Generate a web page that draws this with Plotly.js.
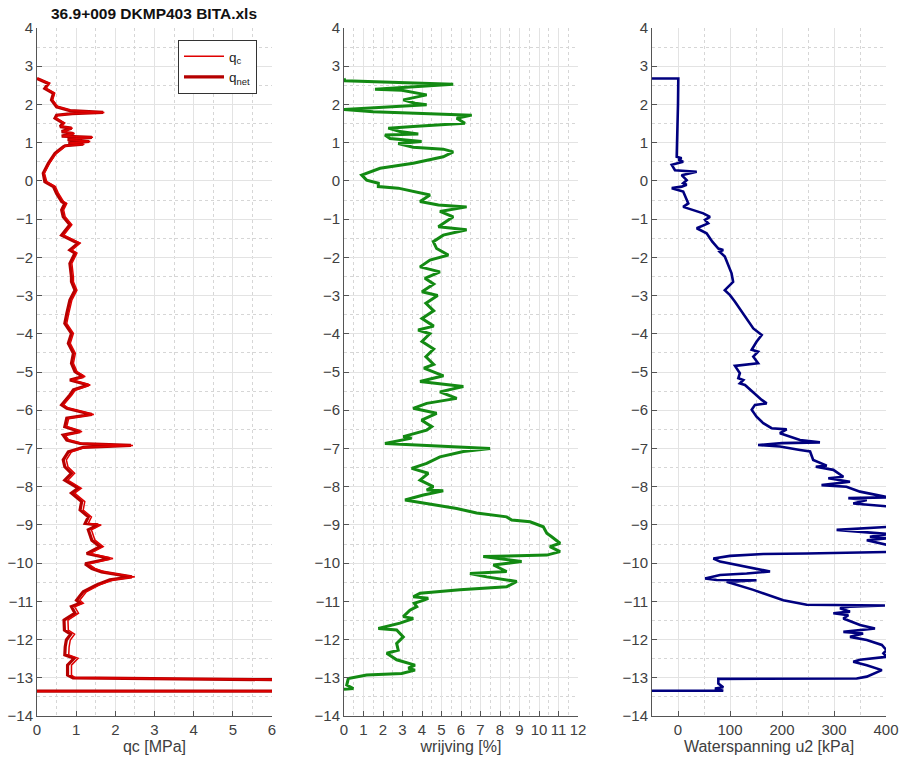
<!DOCTYPE html>
<html>
<head>
<meta charset="utf-8">
<script src="https://cdn.plot.ly/plotly-3.0.1.min.js"></script>
<style>html,body{margin:0;padding:0;background:#fff;}#chart{width:901px;height:762px;}</style>
</head>
<body>
<div id="chart"></div>
<script>
// ---- Panel 1: cone resistance (depth in m NAP, values in MPa)
const qDepth = [2.68,2.55,2.42,2.29,2.12,1.94,1.84,1.79,1.76,1.72,1.64,1.51,1.42,1.38,1.29,1.24,1.17,1.14,1.08,1.03,0.99,0.96,0.92,0.89,0.72,0.46,0.20,-0.02,-0.15,-0.33,-0.54,-0.59,-0.76,-0.94,-1.15,-1.42,-1.63,-1.81,-1.89,-2.16,-2.51,-2.64,-2.86,-3.12,-3.47,-3.73,-3.99,-4.25,-4.51,-4.77,-4.99,-5.12,-5.21,-5.34,-5.47,-5.60,-5.86,-5.95,-6.11,-6.21,-6.43,-6.56,-6.65,-6.78,-6.87,-6.92,-6.97,-7.09,-7.30,-7.48,-7.65,-7.83,-8.04,-8.17,-8.39,-8.61,-8.79,-8.96,-9.00,-9.13,-9.40,-9.57,-9.75,-9.88,-10.02,-10.14,-10.23,-10.36,-10.44,-10.57,-10.75,-10.97,-11.05,-11.14,-11.31,-11.49,-11.75,-11.86,-12.01,-12.19,-12.40,-12.49,-12.67,-12.93,-13.00,-13.06,-13.35,-13.35];
const qnet = [0.00,0.29,0.20,0.42,0.37,0.50,0.84,1.69,0.90,0.50,0.46,0.67,0.59,0.88,0.63,0.93,0.63,1.40,0.78,1.33,0.80,1.18,0.72,0.67,0.46,0.29,0.16,0.20,0.42,0.50,0.63,0.71,0.63,0.67,0.84,0.63,1.05,0.84,0.97,0.84,0.88,0.88,0.97,0.84,0.76,0.71,0.88,0.80,0.93,0.88,0.97,1.18,0.84,1.31,0.93,0.84,0.63,0.76,1.40,0.76,0.71,1.10,0.67,0.76,1.10,2.40,1.18,0.80,0.67,0.71,0.88,0.71,1.05,0.88,1.14,1.10,1.31,1.23,1.56,1.31,1.40,1.61,1.27,1.86,1.23,1.40,1.65,2.42,1.86,1.52,1.18,1.01,1.10,0.88,0.97,0.69,0.70,0.86,0.75,0.72,0.71,0.95,0.78,0.78,0.92,7.00,7.00,-1.00];
const qc   = [0.00,0.32,0.23,0.45,0.40,0.53,0.87,1.72,0.93,0.53,0.49,0.70,0.62,0.91,0.66,0.96,0.66,1.43,0.81,1.36,0.83,1.21,0.75,0.70,0.49,0.32,0.19,0.25,0.47,0.55,0.68,0.76,0.68,0.72,0.89,0.68,1.10,0.89,1.02,0.89,0.93,0.93,1.02,0.89,0.81,0.76,0.93,0.85,0.98,0.93,1.02,1.23,0.89,1.36,0.98,0.89,0.68,0.81,1.45,0.81,0.76,1.15,0.72,0.81,1.15,2.45,1.23,0.88,0.75,0.79,0.96,0.79,1.13,0.96,1.22,1.18,1.39,1.31,1.64,1.39,1.48,1.69,1.35,1.94,1.31,1.48,1.73,2.50,1.94,1.60,1.26,1.09,1.18,0.96,1.06,0.79,0.80,0.96,0.85,0.82,0.81,1.05,0.88,0.88,0.98,7.00,7.00,-1.00];

// ---- Panel 2: friction ratio (%)
const wDepth = [2.68,2.62,2.53,2.40,2.37,2.25,2.12,2.03,1.99,1.94,1.87,1.81,1.72,1.64,1.51,1.42,1.38,1.29,1.23,1.20,1.11,1.03,0.98,0.88,0.83,0.76,0.63,0.46,0.33,0.15,0.02,-0.06,-0.15,-0.19,-0.28,-0.37,-0.54,-0.63,-0.68,-0.80,-0.94,-1.20,-1.28,-1.42,-1.59,-1.77,-1.94,-2.07,-2.25,-2.38,-2.55,-2.70,-2.90,-3.00,-3.20,-3.40,-3.60,-3.80,-3.90,-4.00,-4.20,-4.40,-4.60,-4.80,-4.90,-5.00,-5.10,-5.25,-5.38,-5.52,-5.69,-5.82,-5.95,-6.08,-6.26,-6.43,-6.52,-6.69,-6.73,-6.87,-6.91,-7.00,-7.08,-7.22,-7.39,-7.52,-7.65,-7.83,-8.00,-8.09,-8.11,-8.22,-8.35,-8.44,-8.57,-8.69,-8.79,-8.87,-8.92,-9.05,-9.22,-9.31,-9.48,-9.57,-9.70,-9.79,-9.83,-9.96,-10.05,-10.22,-10.27,-10.36,-10.48,-10.62,-10.70,-10.79,-10.88,-10.92,-10.97,-11.05,-11.14,-11.23,-11.40,-11.45,-11.57,-11.71,-11.75,-11.93,-12.10,-12.28,-12.36,-12.53,-12.67,-12.75,-12.80,-12.89,-12.93,-13.02,-13.19,-13.28,-13.30];
const wrijving = [0.00,0.05,5.60,1.59,2.96,4.24,3.04,3.64,4.24,2.70,0.00,1.50,6.55,5.78,6.20,3.55,2.27,2.87,3.81,2.10,2.36,3.98,2.78,3.55,5.09,5.60,5.09,3.55,1.85,0.91,1.16,1.76,1.76,2.78,3.64,4.41,3.90,4.84,6.29,4.92,5.60,4.84,6.29,5.09,4.58,4.75,5.35,4.41,3.90,4.92,4.15,4.60,4.00,4.80,4.20,4.60,4.00,4.60,3.80,4.40,4.00,4.60,4.20,4.60,4.10,4.60,5.10,3.90,6.12,4.92,5.78,4.24,3.55,4.75,3.98,4.50,4.24,3.04,3.47,2.10,3.73,7.49,6.12,4.92,4.24,3.47,4.32,3.90,4.58,4.24,5.09,4.07,3.13,4.24,5.78,6.80,8.34,8.60,9.54,10.22,10.40,10.65,11.08,10.56,11.08,10.40,7.14,9.11,7.66,8.34,6.46,7.32,8.86,8.34,5.95,3.90,3.55,4.32,4.10,3.60,3.73,3.38,3.04,3.55,2.87,1.76,2.70,3.04,2.70,2.78,2.19,2.70,3.64,3.30,3.64,2.96,1.16,0.22,0.14,0.48,0.00];

// ---- Panel 3: pore water pressure u2 (kPa)
const uDepth = [2.68,2.68,2.00,1.20,0.63,0.59,0.55,0.50,0.42,0.28,0.24,0.15,0.02,-0.06,-0.10,-0.15,-0.19,-0.28,-0.59,-0.68,-0.85,-0.94,-1.02,-1.11,-1.24,-1.37,-1.59,-1.77,-1.81,-1.85,-1.98,-2.42,-2.64,-2.86,-2.99,-3.16,-3.86,-4.03,-4.21,-4.42,-4.47,-4.60,-4.77,-4.84,-5.03,-5.16,-5.21,-5.30,-5.34,-5.73,-5.82,-5.86,-5.99,-6.17,-6.34,-6.47,-6.50,-6.60,-6.78,-6.84,-6.86,-6.91,-6.95,-7.04,-7.08,-7.30,-7.45,-7.48,-7.56,-7.74,-7.78,-7.87,-7.96,-8.00,-8.13,-8.28,-8.30,-8.35,-8.44,-8.52,-8.60,-9.00,-9.05,-9.13,-9.18,-9.24,-9.31,-9.35,-9.40,-9.53,-9.60,-9.70,-9.75,-9.76,-9.81,-9.88,-9.96,-10.09,-10.22,-10.27,-10.31,-10.40,-10.44,-10.45,-10.47,-10.49,-10.70,-10.97,-11.09,-11.11,-11.14,-11.18,-11.27,-11.31,-11.36,-11.45,-11.62,-11.71,-11.80,-11.84,-11.93,-12.01,-12.14,-12.28,-12.36,-12.45,-12.53,-12.58,-12.67,-12.80,-12.97,-13.02,-13.03,-13.15,-13.25,-13.28,-13.34,-13.34];
const u2 = [-50,0.6,0,-1,-2.5,7,0.6,10,-12,-5.8,36,7,16.7,10,16.7,7,-12,10,19.8,10,48.7,61.5,52,58,36,55,66,77.6,87,80,90,103,106,90,100,109.6,144.8,161,151,141.7,154,144.8,154,109.6,119,116,125.6,119,128.8,161,170.5,148,141.7,151,164,180,209,196,234.6,273,200,154,196,234.6,254,260,286,265,298.7,318,289,330.8,276,324,350,405,327.5,363,337,405,430,440,405,305,350,405,369,405,363,405,440,430,247.5,164,100,68,80.8,132,177,132,80.8,52,74.4,151,100,93.6,144.8,202.5,247.5,398,330,311.5,330.8,298.7,327.5,318,350,378.8,318,356,330.8,363,392,401,395,401,350,337,363,392,363,343.7,77.6,77.6,87,71,87,-60];

const W = 901, H = 762;
const FONT = 'Liberation Sans, Arial, Helvetica, sans-serif';
const TXT = '#404040';

function xAxis(domain, range, dtick, minor, title, extra) {
  return Object.assign({
    domain: domain, range: range, dtick: dtick, tick0: 0,
    showgrid: true, gridcolor: '#e3e3e3', gridwidth: 1,
    minor: {dtick: minor, showgrid: true, gridcolor: '#d6d6d6', griddash: 'dot', ticks: ''},
    zeroline: false, showline: true, linecolor: '#555', linewidth: 1, mirror: false,
    ticks: 'inside', ticklen: 5, tickcolor: '#555',
    tickfont: {family: FONT, size: 15, color: TXT},
    title: {text: title, font: {family: FONT, size: 16, color: TXT}, standoff: 3},
    fixedrange: true
  }, extra || {});
}
function yAxis(anchor) {
  return {
    domain: [1 - 716 / H, 1 - 28 / H], range: [-14, 4], dtick: 1, tick0: 0,
    anchor: anchor,
    showgrid: true, gridcolor: '#e3e3e3', gridwidth: 1,
    minor: {dtick: 0.5, showgrid: true, gridcolor: '#d6d6d6', griddash: 'dot', ticks: ''},
    zeroline: false, showline: true, linecolor: '#555', linewidth: 1, mirror: false,
    ticks: 'inside', ticklen: 5, tickcolor: '#555',
    tickfont: {family: FONT, size: 15, color: TXT},
    fixedrange: true
  };
}

const traces = [
  {x: qnet, y: qDepth, xaxis: 'x', yaxis: 'y', type: 'scatter', mode: 'lines',
   name: 'q<sub>net</sub>', line: {color: '#b50000', width: 3.2}, legendrank: 2, hoverinfo: 'skip'},
  {x: qc, y: qDepth, xaxis: 'x', yaxis: 'y', type: 'scatter', mode: 'lines',
   name: 'q<sub>c</sub>', line: {color: '#e00000', width: 1.5}, legendrank: 1, hoverinfo: 'skip'},
  {x: wrijving, y: wDepth, xaxis: 'x2', yaxis: 'y2', type: 'scatter', mode: 'lines',
   name: 'wrijving', showlegend: false, line: {color: '#138a13', width: 3}, hoverinfo: 'skip'},
  {x: u2, y: uDepth, xaxis: 'x3', yaxis: 'y3', type: 'scatter', mode: 'lines',
   name: 'u2', showlegend: false, line: {color: '#00007f', width: 2.6}, hoverinfo: 'skip'}
];

const layout = {
  width: W, height: H,
  margin: {l: 0, r: 0, t: 0, b: 0},
  paper_bgcolor: '#ffffff', plot_bgcolor: '#ffffff',
  showlegend: true,
  title: {text: '<b>36.9+009 DKMP403 BITA.xls</b>', x: 154 / W, xanchor: 'center',
          y: 1 - 14 / H, yanchor: 'middle', font: {family: FONT, size: 15.5, color: '#111'}},
  legend: {x: 178 / W, y: 1 - 40 / H, xanchor: 'left', yanchor: 'top',
           bgcolor: '#ffffff', bordercolor: '#333', borderwidth: 1,
           font: {family: FONT, size: 13.5, color: '#222'}, itemwidth: 40,
           tracegroupgap: 0, traceorder: 'normal'},
  xaxis: xAxis([37 / W, 272 / W], [0, 6], 1, 0.5, 'qc [MPa]', {anchor: 'y'}),
  yaxis: yAxis('x'),
  xaxis2: xAxis([344 / W, 578 / W], [0, 12], 1, 0.5, 'wrijving [%]', {anchor: 'y2'}),
  yaxis2: yAxis('x2'),
  xaxis3: xAxis([652 / W, 886 / W], [-50, 400], 100, 50, 'Waterspanning u2 [kPa]', {anchor: 'y3'}),
  yaxis3: yAxis('x3')
};

Plotly.newPlot('chart', traces, layout, {displayModeBar: false, staticPlot: true});
</script>
</body>
</html>
